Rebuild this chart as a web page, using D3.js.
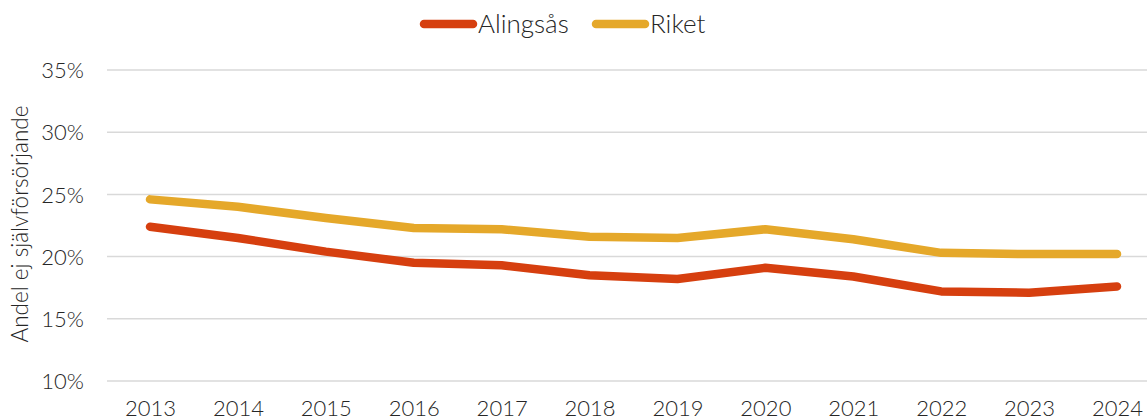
<!DOCTYPE html>
<html>
<head>
<meta charset="utf-8">
<script src="https://cdn.jsdelivr.net/npm/d3@7"></script>
<style>
  html, body { margin: 0; padding: 0; background: #fff; }
  svg text { font-family: Lato, "Open Sans", sans-serif; font-weight: 300; fill: #262626; }
</style>
</head>
<body>
<svg id="chart" width="1147" height="420"></svg>
<script>
// Andel ej självförsörjande, Alingsås jämfört med riket
const years = ["2013","2014","2015","2016","2017","2018","2019","2020","2021","2022","2023","2024"];
const alingsas = [22.4, 21.5, 20.4, 19.5, 19.3, 18.5, 18.2, 19.1, 18.4, 17.2, 17.1, 17.6];
const riket    = [24.6, 24.0, 23.1, 22.3, 22.2, 21.6, 21.5, 22.2, 21.4, 20.3, 20.2, 20.2];
const yTicks = [10, 15, 20, 25, 30, 35];
const seriesNames = ["Alingsås", "Riket"];
const seriesColors = ["#D63F0F", "#E5A82A"];

const series = [
  { name: seriesNames[0], values: alingsas, color: seriesColors[0] },
  { name: seriesNames[1], values: riket, color: seriesColors[1] }
];

const svg = d3.select("#chart");
const plot = { left: 107, right: 1147, top: 70, bottom: 381 };

const x = d3.scalePoint().domain(years).range([150, 1117]);
const y = d3.scaleLinear().domain([10, 35]).range([plot.bottom, plot.top]);

// Gridlines
svg.append("g")
  .selectAll("line")
  .data(yTicks)
  .join("line")
  .attr("x1", plot.left).attr("x2", plot.right)
  .attr("y1", d => y(d)).attr("y2", d => y(d))
  .attr("stroke", "#d9d9d9").attr("stroke-width", 1.5);

// Y axis labels
const yAxis = d3.axisLeft(y).tickValues(yTicks).tickFormat(d => d + "%").tickSize(0).tickPadding(0);
const gy = svg.append("g").attr("transform", "translate(84,0)").call(yAxis);
gy.select(".domain").remove();
gy.selectAll("text").attr("font-size", 22).attr("dy", "0.35em").style("font-family", null);

// X axis labels
const xAxis = d3.axisBottom(x).tickSize(0).tickPadding(0);
const gx = svg.append("g").attr("transform", "translate(0,399)").call(xAxis);
gx.select(".domain").remove();
gx.selectAll("text").attr("font-size", 22).attr("dy", "0.78em").attr("y", 0).style("font-family", null);

// Axis title
svg.append("text")
  .attr("transform", "translate(28,224) rotate(-90)")
  .attr("text-anchor", "middle")
  .attr("font-size", 22.5)
  .text("Andel ej självförsörjande");

// Lines
const line = d3.line()
  .x((d, i) => x(years[i]))
  .y(d => y(d));

svg.append("g")
  .selectAll("path")
  .data(series)
  .join("path")
  .attr("d", d => line(d.values))
  .attr("fill", "none")
  .attr("stroke", d => d.color)
  .attr("stroke-width", 8.5)
  .attr("stroke-linecap", "round")
  .attr("stroke-linejoin", "round");

// Legend
const legendPos = [420, 592];
const lg = svg.append("g");
series.forEach((s, i) => {
  const gx0 = legendPos[i];
  lg.append("line")
    .attr("x1", gx0 + 4).attr("x2", gx0 + 53)
    .attr("y1", 24).attr("y2", 24)
    .attr("stroke", s.color).attr("stroke-width", 8.5)
    .attr("stroke-linecap", "round");
  lg.append("text")
    .attr("x", gx0 + 58).attr("y", 24)
    .attr("dy", "0.35em")
    .attr("font-size", 26)
    .text(s.name);
});
</script>
</body>
</html>
